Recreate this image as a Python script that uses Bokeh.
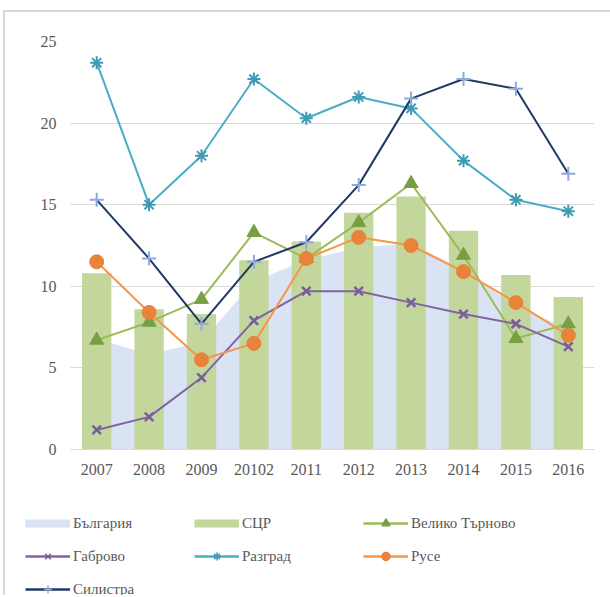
from bokeh.plotting import figure
from bokeh.layouts import column
from bokeh.models import Legend, LegendItem, FixedTicker, FactorRange, Range1d
from bokeh.embed import file_html
from bokeh.resources import INLINE

years = ["2007", "2008", "2009", "20102", "2011", "2012", "2013", "2014", "2015", "2016"]
bulgaria = [6.8, 5.8, 6.6, 10.3, 11.6, 12.4, 12.6, 11.0, 8.8, 7.4]
scr = [10.8, 8.6, 8.3, 11.6, 12.75, 14.5, 15.5, 13.4, 10.7, 9.35]
veliko_tarnovo = [6.7, 7.8, 9.2, 13.3, 11.7, 13.9, 16.3, 11.9, 6.8, 7.7]
gabrovo = [1.2, 2.0, 4.4, 7.9, 9.7, 9.7, 9.0, 8.3, 7.7, 6.3]
razgrad = [23.7, 15.0, 18.0, 22.7, 20.3, 21.6, 20.9, 17.7, 15.3, 14.6]
ruse = [11.5, 8.4, 5.5, 6.5, 11.7, 13.0, 12.5, 10.9, 9.0, 7.0]
silistra = [15.3, 11.7, 7.7, 11.5, 12.7, 16.2, 21.5, 22.7, 22.1, 16.9]
y_ticks = [0, 5, 10, 15, 20, 25]

FONT = "Liberation Serif"
C_BG = "#DAE3F3"
C_SCR = "#C3D69B"
C_VT, C_VT_M = "#9BBB59", "#77A043"
C_GB, C_GB_M = "#8064A2", "#7A5C9E"
C_RZ, C_RZ_M = "#4BACC6", "#3E9BB3"
C_RU, C_RU_M = "#F79646", "#E8833A"
C_SI, C_SI_M = "#1F3864", "#8EA9DB"

p = figure(width=605, height=478, x_range=FactorRange(*years, range_padding=0),
           y_range=Range1d(0, 25), output_backend="svg", toolbar_location=None,
           min_border_left=65, min_border_right=16, min_border_top=29,
           min_border_bottom=41)
p.frame_align = False
p.outline_line_color = None
p.xgrid.grid_line_color = None
p.ygrid.grid_line_color = "#D9D9D9"
p.ygrid.grid_line_width = 1
p.yaxis.ticker = FixedTicker(ticks=y_ticks)
for ax in (p.xaxis[0], p.yaxis[0]):
    ax.major_tick_line_color = None
    ax.minor_tick_line_color = None
    ax.major_label_text_font = FONT
    ax.major_label_text_font_size = "16px"
    ax.major_label_text_color = "#595959"
p.yaxis.axis_line_color = None
p.yaxis.major_label_standoff = 8
p.xaxis.axis_line_color = "#D9D9D9"
p.xaxis.major_label_standoff = 8

p.varea(x=years, y1=[0] * len(years), y2=bulgaria, fill_color=C_BG)
p.vbar(x=years, top=scr, width=0.56, fill_color=C_SCR, line_color=None)

p.line(years, veliko_tarnovo, line_color=C_VT, line_width=2)
p.scatter(years, veliko_tarnovo, marker="triangle", size=14, fill_color=C_VT_M, line_color=C_VT_M)
p.line(years, gabrovo, line_color=C_GB, line_width=2)
p.scatter(years, gabrovo, marker="x", size=12, line_color=C_GB_M, line_width=2.5)
p.line(years, razgrad, line_color=C_RZ, line_width=2)
p.scatter(years, razgrad, marker="asterisk", size=13, line_color=C_RZ_M, line_width=2)
p.line(years, ruse, line_color=C_RU, line_width=2)
p.scatter(years, ruse, marker="circle", size=14, fill_color=C_RU_M, line_color=C_RU_M)
p.line(years, silistra, line_color=C_SI, line_width=2)
p.scatter(years, silistra, marker="cross", size=14, line_color=C_SI_M, line_width=2)

# legend in its own small figure, with proxy renderers (no visible data)
lf = figure(width=605, height=105, x_range=FactorRange(*years), y_range=Range1d(0, 1),
            output_backend="svg", toolbar_location=None,
            x_axis_location=None, y_axis_location=None, min_border=0)
lf.frame_align = False
lf.outline_line_color = None
lf.grid.grid_line_color = None
nx, ny = years[:1], [float("nan")]

def proxy(color, width, marker=None, mcolor=None, filled=False):
    rs = [lf.line(x=nx, y=ny, line_color=color, line_width=width)]
    if marker:
        rs.append(lf.scatter(x=nx, y=ny, marker=marker, line_color=mcolor, line_width=1.5,
                             fill_color=mcolor if filled else None))
    return rs

items = [
    LegendItem(label="България", renderers=proxy(C_BG, 8)),
    LegendItem(label="СЦР", renderers=proxy(C_SCR, 8)),
    LegendItem(label="Велико Търново", renderers=proxy(C_VT, 2.5, "triangle", C_VT_M, True)),
    LegendItem(label="Габрово", renderers=proxy(C_GB, 2.5, "x", C_GB_M)),
    LegendItem(label="Разград", renderers=proxy(C_RZ, 2.5, "asterisk", C_RZ_M)),
    LegendItem(label="Русе", renderers=proxy(C_RU, 2.5, "circle", C_RU_M, True)),
    LegendItem(label="Силистра", renderers=proxy(C_SI, 2.5, "cross", C_SI_M)),
]
legend = Legend(items=items, ncols=3, orientation="horizontal", location=(20, -4),
                glyph_width=45, glyph_height=20, label_height=20, label_standoff=3,
                label_width=108, spacing=13, padding=0, margin=0, border_line_color=None,
                background_fill_alpha=0,
                label_text_font=FONT, label_text_font_size="15px", label_text_color="#595959")
lf.add_layout(legend, "center")

layout = column(p, lf, styles={"border-top": "2px solid #D9D9D9",
                               "border-left": "2px solid #D9D9D9",
                               "margin-left": "3px", "margin-top": "10px"})

open("out.html", "w").write(file_html(layout, INLINE))
